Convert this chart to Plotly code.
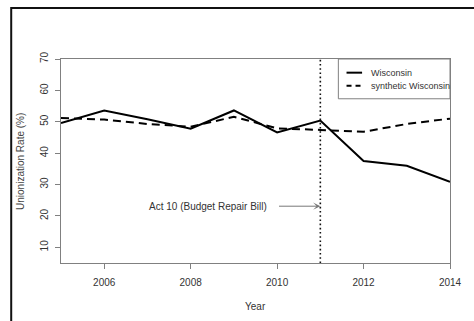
import plotly.graph_objects as go

years = [2005, 2006, 2007, 2008, 2009, 2010, 2011, 2012, 2013, 2014]
wisconsin = [49.6, 53.6, 50.8, 47.8, 53.6, 46.6, 50.4, 37.5, 36.0, 30.9]
synthetic = [51.2, 50.7, 49.3, 48.4, 51.6, 47.9, 47.4, 46.8, 49.3, 51.0]
series_names = ["Wisconsin", "synthetic Wisconsin"]
event_year = 2011
event_label = "Act 10 (Budget Repair Bill)"
x_ticks = [2006, 2008, 2010, 2012, 2014]
y_ticks = [10, 20, 30, 40, 50, 60, 70]

FONT = "Liberation Sans, Arial, sans-serif"
AX = "#808080"

fig = go.Figure()
fig.add_trace(go.Scatter(x=years, y=wisconsin, mode="lines", name=series_names[0],
                         line=dict(color="black", width=2), showlegend=False))
fig.add_trace(go.Scatter(x=years, y=synthetic, mode="lines", name=series_names[1],
                         line=dict(color="black", width=2, dash="8px,5px"), showlegend=False))
# vertical dotted line
fig.add_trace(go.Scatter(x=[event_year, event_year], y=[5, 70], mode="lines",
                         line=dict(color="#111", width=1.6, dash="1.6px,2.6px"),
                         showlegend=False, hoverinfo="skip"))

shapes = [
    # outer frame
    dict(type="rect", xref="paper", yref="paper", x0=-0.128, x1=1.5, y0=-1.0, y1=1.25,
         line=dict(color="#111", width=2), layer="below"),
    # legend box
    dict(type="rect", xref="paper", yref="paper", x0=0.713, x1=1.0, y0=0.805, y1=1.0,
         line=dict(color=AX, width=1), fillcolor="white"),
    dict(type="line", xref="paper", yref="paper", x0=0.734, x1=0.774, y0=0.933, y1=0.933,
         line=dict(color="black", width=2)),
    dict(type="line", xref="paper", yref="paper", x0=0.734, x1=0.774, y0=0.869, y1=0.869,
         line=dict(color="black", width=2, dash="5px,4px")),
]

annotations = [
    dict(xref="paper", yref="paper", x=0.791, y=0.933, text=series_names[0], showarrow=False,
         xanchor="left", yanchor="middle", font=dict(family=FONT, size=9, color="#333")),
    dict(xref="paper", yref="paper", x=0.791, y=0.869, text=series_names[1], showarrow=False,
         xanchor="left", yanchor="middle", font=dict(family=FONT, size=9, color="#333")),
    dict(x=2009.81, y=23.1, text=event_label, showarrow=False, xanchor="right", yanchor="middle",
         font=dict(family=FONT, size=10, color="#333")),
    dict(x=event_year, y=23.1, ax=2010.01, ay=23.1, axref="x", ayref="y", text="",
         showarrow=True, arrowhead=3, arrowsize=1.2, arrowwidth=1, arrowcolor="#777", standoff=0),
    dict(xref="paper", yref="paper", x=0.5, y=(263 - 306) / 204, text="Year", showarrow=False,
         xanchor="center", yanchor="middle", font=dict(family=FONT, size=10, color="#333")),
    dict(xref="paper", yref="paper", x=(19 - 61) / 398, y=0.5, text="Unionization Rate (%)",
         showarrow=False, textangle=-90, xanchor="center", yanchor="middle",
         font=dict(family=FONT, size=10, color="#444")),
]

fig.update_layout(
    width=474, height=321,
    margin=dict(l=61, r=15, t=59, b=58),
    paper_bgcolor="white", plot_bgcolor="white",
    showlegend=False,
    shapes=shapes, annotations=annotations,
    xaxis=dict(range=[2005, 2014], tickvals=x_ticks, ticktext=[str(t) for t in x_ticks],
               showgrid=False, zeroline=False, showline=True, mirror=True, linecolor=AX,
               linewidth=1.2, ticks="outside", ticklen=5, tickcolor=AX, ticklabelstandoff=5,
               tickfont=dict(family=FONT, size=10, color="#333")),
    yaxis=dict(range=[5, 70], tickvals=y_ticks, showgrid=False, zeroline=False,
               showline=True, mirror=True, linecolor=AX, linewidth=1.2, ticks="outside",
               ticklen=5, tickcolor=AX, tickangle=-90, ticklabelstandoff=3,
               tickfont=dict(family=FONT, size=10, color="#333")),
)

fig.write_html("out.html")
